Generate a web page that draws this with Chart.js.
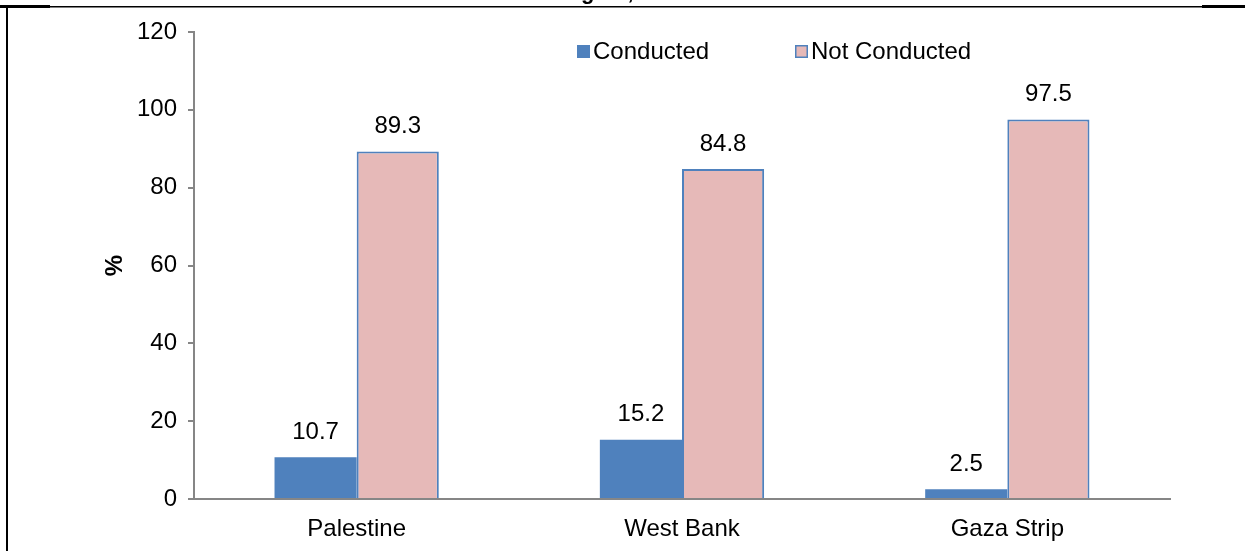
<!DOCTYPE html>
<html>
<head>
<meta charset="utf-8">
<script src="https://cdn.jsdelivr.net/npm/chart.js@4"></script>
<style>
  html, body { margin: 0; padding: 0; background: #fff; }
  #wrap { width: 1245px; height: 551px; position: relative; }
</style>
</head>
<body>
<div id="wrap"><canvas id="chart"></canvas></div>
<script>
const categories = ["Palestine", "West Bank", "Gaza Strip"];
const conducted = [10.7, 15.2, 2.5];
const notConducted = [89.3, 84.8, 97.5];
const yTicks = [0, 20, 40, 60, 80, 100, 120];

const FONT = "Arial, 'Liberation Sans', sans-serif";

// frame lines and the cut-off title at the top of the picture
const framePlugin = {
  id: "frame",
  afterDraw(chart) {
    const ctx = chart.ctx;
    ctx.save();
    ctx.fillStyle = "#000";
    ctx.font = "bold 22px " + FONT;
    ctx.textAlign = "left";
    ctx.textBaseline = "alphabetic";
    ctx.fillText("Region, 2019", 553, -1);
    ctx.fillRect(0, 6, 1245, 1.5);
    ctx.fillRect(0, 5, 50, 3);
    ctx.fillRect(1202, 5, 43, 3);
    ctx.fillRect(6, 6, 2, 545);
    ctx.restore();
  }
};

// legend inside the plot, at the top
const legendPlugin = {
  id: "innerLegend",
  afterDraw(chart) {
    const ctx = chart.ctx;
    const items = [{ x: 577 }, { x: 795 }];
    ctx.save();
    ctx.font = "24px " + FONT;
    ctx.textBaseline = "middle";
    ctx.textAlign = "left";
    chart.data.datasets.forEach((ds, i) => {
      const x = items[i].x, y = 45;
      ctx.fillStyle = ds.backgroundColor;
      ctx.fillRect(x, y, 13, 13);
      if (ds.borderWidth) {
        ctx.strokeStyle = ds.borderColor;
        ctx.lineWidth = 1.5;
        ctx.strokeRect(x + 0.75, y + 0.75, 11.5, 11.5);
      }
      ctx.fillStyle = "#000";
      ctx.fillText(ds.label, x + 16, y + 7);
    });
    ctx.restore();
  }
};

const valueLabels = {
  id: "valueLabels",
  afterDatasetsDraw(chart) {
    const ctx = chart.ctx;
    ctx.save();
    ctx.font = "24px " + FONT;
    ctx.fillStyle = "#000";
    ctx.textAlign = "center";
    ctx.textBaseline = "middle";
    chart.data.datasets.forEach((ds, i) => {
      chart.getDatasetMeta(i).data.forEach((bar, j) => {
        ctx.fillText(ds.data[j].toFixed(1), bar.x, bar.y - 25);
      });
    });
    ctx.restore();
  }
};

new Chart(document.getElementById("chart"), {
  type: "bar",
  data: {
    labels: categories,
    datasets: [
      {
        label: "Conducted",
        data: conducted,
        backgroundColor: "#4F81BD",
        borderWidth: 0
      },
      {
        label: "Not Conducted",
        data: notConducted,
        backgroundColor: "#E6B9B8",
        borderColor: "#4F81BD",
        borderWidth: 2
      }
    ]
  },
  options: {
    responsive: true,
    maintainAspectRatio: false,
    animation: false,
    layout: { padding: { top: 32, right: 75, left: 0, bottom: 0 } },
    plugins: {
      legend: { display: false },
      tooltip: { enabled: false }
    },
    datasets: {
      bar: { categoryPercentage: 0.505, barPercentage: 1 }
    },
    scales: {
      x: {
        grid: { display: false, drawTicks: false },
        border: { color: "#868686", width: 2 },
        ticks: { color: "#000", font: { family: FONT, size: 24 }, padding: 16 },
        afterFit(scale) { scale.height = 52; }
      },
      y: {
        min: 0,
        max: 120,
        afterBuildTicks(scale) { scale.ticks = yTicks.map(v => ({ value: v })); },
        grid: { drawOnChartArea: false, tickLength: 6, color: "#868686", lineWidth: 2 },
        border: { color: "#868686", width: 2 },
        ticks: { color: "#000", font: { family: FONT, size: 24 }, padding: 11 },
        title: {
          display: true,
          text: "%",
          color: "#000",
          font: { family: FONT, size: 24, weight: "bold" },
          padding: { top: 101, bottom: 0 }
        },
        afterFit(scale) { scale.width = 194; }
      }
    }
  },
  plugins: [valueLabels, legendPlugin, framePlugin]
});
</script>
</body>
</html>
